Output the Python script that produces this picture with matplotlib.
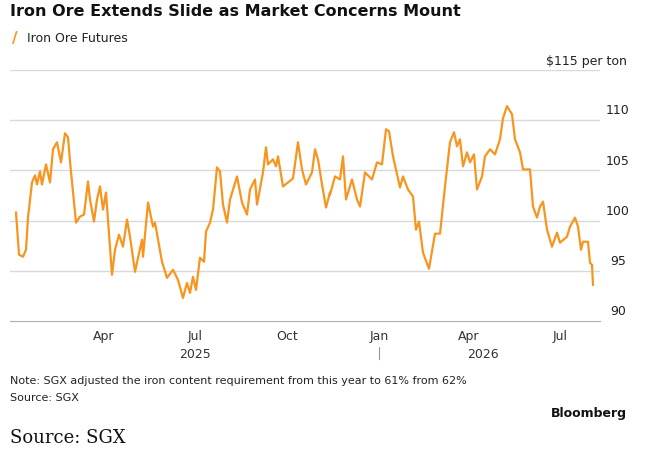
import datetime as dt
import matplotlib.pyplot as plt
import matplotlib.dates as mdates

# day offsets from 2025-01-01 and prices ($/ton)
days = [2, 5, 9, 12, 14, 18, 21, 23, 26, 28, 32, 36, 39, 43, 47, 51, 54, 56, 62, 66, 70,
        74, 76, 80, 83, 86, 89, 92, 98, 101, 105, 109, 113, 116, 121, 128, 129, 134, 139,
        141, 148, 153, 159, 164, 169, 173, 176, 179, 182, 186, 190, 192, 196, 199, 203,
        206, 209, 213, 216, 223, 228, 233, 236, 241, 243, 249, 252, 254, 259, 262, 264,
        269, 279, 284, 288, 292, 298, 301, 304, 308, 312, 316, 316, 321, 326, 329, 332,
        338, 343, 346, 351, 358, 363, 368, 372, 375, 379, 386, 389, 394, 399, 402, 405,
        409, 415, 421, 426, 431, 436, 440, 443, 446, 449, 453, 456, 460, 463, 468, 471,
        476, 481, 486, 489, 493, 498, 501, 506, 509, 516, 519, 523, 526, 529, 533, 538,
        543, 546, 553, 556, 561, 564, 567, 569, 574, 576, 578, 579]
prices = [100.8, 96.6, 96.4, 97.1, 100.3, 103.8, 104.5, 103.6, 104.9, 103.6, 105.6, 103.8,
          107.1, 107.8, 105.8, 108.7, 108.3, 105.9, 99.8, 100.4, 100.6, 103.9, 102.1, 99.9,
          102.1, 103.4, 101.1, 102.8, 94.6, 97.1, 98.6, 97.4, 100.1, 98.4, 94.9, 98.1, 96.4,
          101.8, 99.4, 99.8, 95.9, 94.3, 95.1, 94.1, 92.3, 93.8, 92.8, 94.4, 93.1, 96.3,
          95.9, 98.9, 99.8, 101.1, 105.3, 104.9, 101.6, 99.8, 102.1, 104.4, 101.8, 100.6,
          103.1, 104.1, 101.6, 104.8, 107.3, 105.6, 106.1, 105.4, 106.4, 103.4, 104.2,
          107.8, 105.1, 103.6, 104.8, 107.1, 106.1, 103.6, 101.3, 102.8, 102.6, 104.4,
          104.1, 106.4, 102.1, 104.1, 102.1, 101.4, 104.8, 104.1, 105.8, 105.6, 109.1,
          108.9, 106.4, 103.3, 104.4, 103.1, 102.4, 99.1, 99.9, 96.8, 95.2, 98.7, 98.7,
          103.4, 107.8, 108.8, 107.4, 108.1, 105.4, 106.8, 105.8, 106.6, 103.1, 104.4,
          106.4, 107.1, 106.6, 108.1, 110.2, 111.4, 110.6, 108.1, 106.8, 105.1, 105.1,
          101.4, 100.3, 101.4, 101.9, 99.1, 97.4, 98.8, 97.8, 98.4, 99.4, 100.3, 99.4,
          97.1, 97.9, 97.9, 95.8, 95.6, 93.6]
yticks = [90, 95, 100, 105, 110]
xtick_dates = ["2025-04-01", "2025-07-01", "2025-10-01", "2026-01-01", "2026-04-01", "2026-07-01"]
xtick_labels = ["Apr", "Jul", "Oct", "Jan", "Apr", "Jul"]

start = dt.date(2025, 1, 1)
dates = [start + dt.timedelta(days=d) for d in days]
orange = "#F7951F"

fig = plt.figure(figsize=(6.6, 4.52), dpi=100)
ax = fig.add_axes([10 / 660, 1 - 322 / 452, 590 / 660, 251 / 452])
ax.plot(dates, prices, color=orange, lw=1.6)
ax.set_ylim(90, 115)
ax.set_xlim(dt.date(2025, 1, 1) - dt.timedelta(days=4), dt.date(2026, 8, 10))
for y in yticks[1:] + [115]:
    ax.axhline(y, color="#d9d9d9", lw=1, zorder=0)
for s in ["top", "right", "left"]:
    ax.spines[s].set_visible(False)
ax.spines["bottom"].set_color("#b0b0b0")
ax.set_yticks([])
for y in yticks:
    ax.text(1.03, (y - 90) / 25 + 0.015, str(y), transform=ax.transAxes, ha="center", va="bottom",
            fontsize=9, color="#222222")
ax.text(1.045, 1.01, "$115 per ton", transform=ax.transAxes, ha="right", va="bottom",
        fontsize=9, color="#222222")
ax.set_xticks([mdates.datestr2num(d) for d in xtick_dates])
ax.set_xticklabels(xtick_labels, fontsize=9, color="#333333")
ax.tick_params(axis="x", length=0, pad=6)
ax.text(mdates.datestr2num("2025-07-01"), -0.105, "2025", transform=ax.get_xaxis_transform(),
        ha="center", va="top", fontsize=9, color="#333333")
ax.text(mdates.datestr2num("2026-04-15"), -0.105, "2026", transform=ax.get_xaxis_transform(),
        ha="center", va="top", fontsize=9, color="#333333")
ax.plot([mdates.datestr2num("2026-01-01")] * 2, [-0.105, -0.15], transform=ax.get_xaxis_transform(),
        color="#999999", lw=0.8, clip_on=False)

fig.text(10 / 660, 1 - 12 / 452, "Iron Ore Extends Slide as Market Concerns Mount",
         fontsize=11.5, fontweight="bold", va="center", color="#111111")
fig.text(12 / 660, 1 - 38 / 452, "/", fontsize=11, fontweight="bold", color=orange, va="center")
fig.text(27 / 660, 1 - 38 / 452, "Iron Ore Futures", fontsize=9, va="center", color="#222222")
fig.text(10 / 660, 1 - 381 / 452, "Note: SGX adjusted the iron content requirement from this year to 61% from 62%",
         fontsize=8, va="center", color="#222222")
fig.text(10 / 660, 1 - 398 / 452, "Source: SGX", fontsize=8, va="center", color="#222222")
fig.text(627 / 660, 1 - 414 / 452, "Bloomberg", fontsize=9, fontweight="bold", ha="right",
         va="center", color="#111111")
fig.text(10 / 660, 1 - 438 / 452, "Source: SGX", fontsize=13, family="DejaVu Serif", va="center",
         color="#111111")
fig.savefig("out.png", dpi=100)
